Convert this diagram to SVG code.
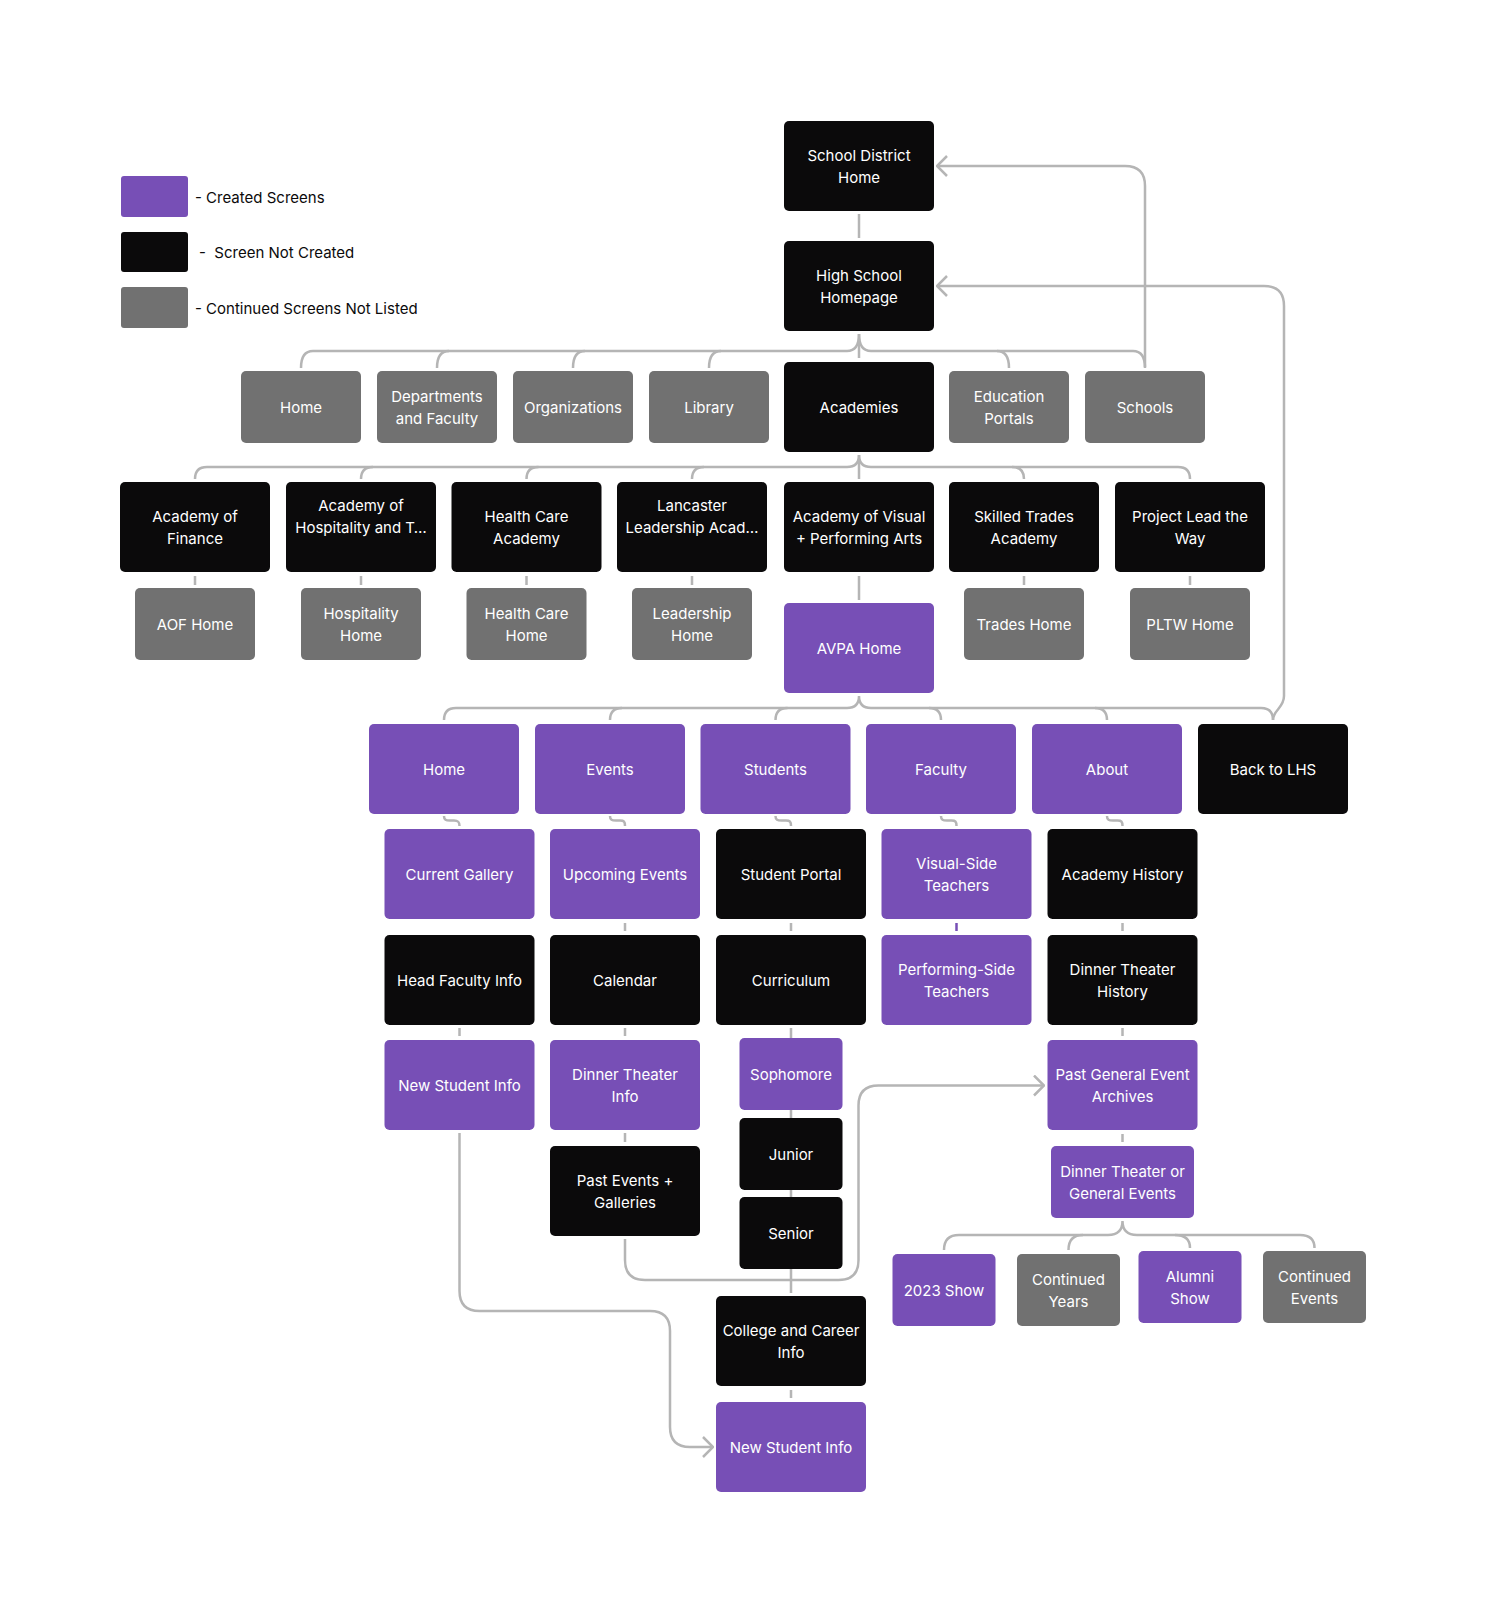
<svg xmlns="http://www.w3.org/2000/svg" width="1487" height="1613" viewBox="0 0 1487 1613">
<defs>
<style>
.p{fill:#774FB6}.b{fill:#0B0A0B}.g{fill:#717171}
.t{font-family:Inter,"Noto Sans","Liberation Sans",sans-serif;font-size:15px;fill:#fff;text-anchor:middle}
.lg{font-family:Inter,"Noto Sans","Liberation Sans",sans-serif;font-size:15px;fill:#0B0A0B;white-space:pre}
.c{fill:none;stroke:#B5B5B5;stroke-width:2.5}
.cp{fill:none;stroke:#774FB6;stroke-width:2.5}
.a{fill:none;stroke:#B5B5B5;stroke-width:2.5;marker-end:url(#chev)}
</style>
<marker id="chev" viewBox="0 0 12 22" refX="11" refY="11" markerWidth="12" markerHeight="22" markerUnits="userSpaceOnUse" orient="auto">
<path d="M1,1 L11,11 L1,21" fill="none" stroke="#B5B5B5" stroke-width="2.5"/>
</marker>
</defs>
<rect width="1487" height="1613" fill="#fff"/>

<g id="legend">
<rect class="p" x="121" y="176" width="67" height="41" rx="3"/>
<text class="lg" x="195" y="203">- Created Screens</text>
<rect class="b" x="121" y="232" width="67" height="40" rx="3"/>
<text class="lg" x="199" y="258">-  Screen Not Created</text>
<rect class="g" x="121" y="287" width="67" height="41" rx="3"/>
<text class="lg" x="195" y="314">- Continued Screens Not Listed</text>
</g>

<g id="connectors">
<path class="c" d="M859,214 V238"/>
<!-- row 2 bus -->
<path class="c" d="M301,368 Q301,351 313,351 H847 Q859,351 859,334 Q859,351 871,351 H1133 Q1145,351 1145,368"/>
<path class="c" d="M449,351 Q437,351 437,368 M585,351 Q573,351 573,368 M721,351 Q709,351 709,368 M997,351 Q1009,351 1009,368 M859,334 V358"/>
<!-- row 3 bus -->
<path class="c" d="M195,479 Q195,467 207,467 H847 Q859,467 859,455 Q859,467 871,467 H1178 Q1190,467 1190,479"/>
<path class="c" d="M373,467 Q361,467 361,479 M538.5,467 Q526.5,467 526.5,479 M704,467 Q692,467 692,479 M1012,467 Q1024,467 1024,479 M859,455 V479"/>
<!-- row 3 to row 4 -->
<path class="c" d="M195,576 V585 M361,576 V585 M526.5,576 V585 M692,576 V585 M859,576 V600 M1024,576 V585 M1190,576 V585"/>
<!-- row 5 bus -->
<path class="c" d="M444,720 Q444,708 456,708 H847 Q859,708 859,696 Q859,708 871,708 H1261 Q1273,708 1273,720"/>
<path class="c" d="M622,708 Q610,708 610,720 M787.5,708 Q775.5,708 775.5,720 M929,708 Q941,708 941,720 M1095,708 Q1107,708 1107,720"/>
<!-- row 5 to row 6 s-curves -->
<path class="c" d="M444,816 C444,820 446,820.5 450,820.5 H454 C458,820.5 459.5,821.5 459.5,826"/>
<path class="c" d="M610,816 C610,820 612,820.5 616,820.5 H620 C624,820.5 625,821.5 625,826"/>
<path class="c" d="M775.5,816 C775.5,820 777.5,820.5 781.5,820.5 H786 C790,820.5 791,821.5 791,826"/>
<path class="c" d="M941,816 C941,820 943,820.5 947,820.5 H951.5 C955.5,820.5 956.5,821.5 956.5,826"/>
<path class="c" d="M1107,816 C1107,820 1109,820.5 1113,820.5 H1117.5 C1121.5,820.5 1122.5,821.5 1122.5,826"/>
<!-- ticks -->
<path class="c" d="M625,923 V931 M791,923 V931 M1122.5,923 V931"/>
<path class="cp" d="M956.5,923 V931"/>
<path class="c" d="M459.5,1028 V1036 M625,1028 V1036 M1122.5,1028 V1036"/>
<path class="c" d="M791,1028 V1293"/>
<path class="c" d="M625,1133 V1142 M1122.5,1134 V1142 M791,1390 V1398"/>
<!-- bottom bus -->
<path class="c" d="M944,1250 Q944,1235 959,1235 H1108 Q1122.5,1235 1122.5,1221 Q1122.5,1235 1137,1235 H1300 Q1314.5,1235 1314.5,1248"/>
<path class="c" d="M1083,1235 Q1068.5,1235 1068.5,1250 M1175,1235 Q1190,1235 1190,1248"/>
<!-- arrows -->
<path class="a" d="M1145,367 V186 Q1145,166 1125,166 H937"/>
<path class="a" d="M1273,720 C1273,710 1284,708 1284,696 V306 Q1284,286 1264,286 H937"/>
<path class="a" d="M459.5,1133 V1291 Q459.5,1311 479.5,1311 H650 Q670,1311 670,1331 V1427 Q670,1447 690,1447 H713"/>
<path class="a" d="M625,1239 V1260 Q625,1280 645,1280 H838.5 Q858.5,1280 858.5,1260 V1105.5 Q858.5,1085.5 878.5,1085.5 H1044"/>
</g>

<g id="n-sdh"><rect class="b" x="784" y="121" width="150" height="90" rx="5"/><text class="t" x="859" y="161">School District<tspan x="859" dy="22">Home</tspan></text></g>
<g id="n-hsh"><rect class="b" x="784" y="241" width="150" height="90" rx="5"/><text class="t" x="859" y="281">High School<tspan x="859" dy="22">Homepage</tspan></text></g>

<g id="n-home"><rect class="g" x="241" y="371" width="120" height="72" rx="5"/><text class="t" x="301" y="412.5">Home</text></g>
<g id="n-dept"><rect class="g" x="377" y="371" width="120" height="72" rx="5"/><text class="t" x="437" y="402">Departments<tspan x="437" dy="22">and Faculty</tspan></text></g>
<g id="n-org"><rect class="g" x="513" y="371" width="120" height="72" rx="5"/><text class="t" x="573" y="412.5">Organizations</text></g>
<g id="n-lib"><rect class="g" x="649" y="371" width="120" height="72" rx="5"/><text class="t" x="709" y="412.5">Library</text></g>
<g id="n-acad"><rect class="b" x="784" y="362" width="150" height="90" rx="5"/><text class="t" x="859" y="412.5">Academies</text></g>
<g id="n-edu"><rect class="g" x="949" y="371" width="120" height="72" rx="5"/><text class="t" x="1009" y="402">Education<tspan x="1009" dy="22">Portals</tspan></text></g>
<g id="n-schools"><rect class="g" x="1085" y="371" width="120" height="72" rx="5"/><text class="t" x="1145" y="412.5">Schools</text></g>

<g id="n-aof"><rect class="b" x="120" y="482" width="150" height="90" rx="5"/><text class="t" x="195" y="522">Academy of<tspan x="195" dy="22">Finance</tspan></text></g>
<g id="n-hosp"><rect class="b" x="286" y="482" width="150" height="90" rx="5"/><text class="t" x="361" y="510.5">Academy of<tspan x="361" dy="22">Hospitality and T…</tspan></text></g>
<g id="n-hca"><rect class="b" x="451.5" y="482" width="150" height="90" rx="5"/><text class="t" x="526.5" y="522">Health Care<tspan x="526.5" dy="22">Academy</tspan></text></g>
<g id="n-lanc"><rect class="b" x="617" y="482" width="150" height="90" rx="5"/><text class="t" x="692" y="510.5">Lancaster<tspan x="692" dy="22">Leadership Acad…</tspan></text></g>
<g id="n-avpa"><rect class="b" x="784" y="482" width="150" height="90" rx="5"/><text class="t" x="859" y="522">Academy of Visual<tspan x="859" dy="22">+ Performing Arts</tspan></text></g>
<g id="n-sta"><rect class="b" x="949" y="482" width="150" height="90" rx="5"/><text class="t" x="1024" y="522">Skilled Trades<tspan x="1024" dy="22">Academy</tspan></text></g>
<g id="n-pltw"><rect class="b" x="1115" y="482" width="150" height="90" rx="5"/><text class="t" x="1190" y="522">Project Lead the<tspan x="1190" dy="22">Way</tspan></text></g>

<g id="n-aofhome"><rect class="g" x="135" y="588" width="120" height="72" rx="5"/><text class="t" x="195" y="629.5">AOF Home</text></g>
<g id="n-hosphome"><rect class="g" x="301" y="588" width="120" height="72" rx="5"/><text class="t" x="361" y="619">Hospitality<tspan x="361" dy="22">Home</tspan></text></g>
<g id="n-hchome"><rect class="g" x="466.5" y="588" width="120" height="72" rx="5"/><text class="t" x="526.5" y="619">Health Care<tspan x="526.5" dy="22">Home</tspan></text></g>
<g id="n-leadhome"><rect class="g" x="632" y="588" width="120" height="72" rx="5"/><text class="t" x="692" y="619">Leadership<tspan x="692" dy="22">Home</tspan></text></g>
<g id="n-avpahome"><rect class="p" x="784" y="603" width="150" height="90" rx="5"/><text class="t" x="859" y="653.5">AVPA Home</text></g>
<g id="n-tradeshome"><rect class="g" x="964" y="588" width="120" height="72" rx="5"/><text class="t" x="1024" y="629.5">Trades Home</text></g>
<g id="n-pltwhome"><rect class="g" x="1130" y="588" width="120" height="72" rx="5"/><text class="t" x="1190" y="629.5">PLTW Home</text></g>

<g id="n-ahome"><rect class="p" x="369" y="724" width="150" height="90" rx="5"/><text class="t" x="444" y="774.5">Home</text></g>
<g id="n-events"><rect class="p" x="535" y="724" width="150" height="90" rx="5"/><text class="t" x="610" y="774.5">Events</text></g>
<g id="n-students"><rect class="p" x="700.5" y="724" width="150" height="90" rx="5"/><text class="t" x="775.5" y="774.5">Students</text></g>
<g id="n-faculty"><rect class="p" x="866" y="724" width="150" height="90" rx="5"/><text class="t" x="941" y="774.5">Faculty</text></g>
<g id="n-about"><rect class="p" x="1032" y="724" width="150" height="90" rx="5"/><text class="t" x="1107" y="774.5">About</text></g>
<g id="n-back"><rect class="b" x="1198" y="724" width="150" height="90" rx="5"/><text class="t" x="1273" y="774.5">Back to LHS</text></g>

<g id="n-gallery"><rect class="p" x="384.5" y="829" width="150" height="90" rx="5"/><text class="t" x="459.5" y="879.5">Current Gallery</text></g>
<g id="n-upcoming"><rect class="p" x="550" y="829" width="150" height="90" rx="5"/><text class="t" x="625" y="879.5">Upcoming Events</text></g>
<g id="n-portal"><rect class="b" x="716" y="829" width="150" height="90" rx="5"/><text class="t" x="791" y="879.5">Student Portal</text></g>
<g id="n-visual"><rect class="p" x="881.5" y="829" width="150" height="90" rx="5"/><text class="t" x="956.5" y="869">Visual-Side<tspan x="956.5" dy="22">Teachers</tspan></text></g>
<g id="n-history"><rect class="b" x="1047.5" y="829" width="150" height="90" rx="5"/><text class="t" x="1122.5" y="879.5">Academy History</text></g>

<g id="n-headfac"><rect class="b" x="384.5" y="935" width="150" height="90" rx="5"/><text class="t" x="459.5" y="985.5">Head Faculty Info</text></g>
<g id="n-calendar"><rect class="b" x="550" y="935" width="150" height="90" rx="5"/><text class="t" x="625" y="985.5">Calendar</text></g>
<g id="n-curriculum"><rect class="b" x="716" y="935" width="150" height="90" rx="5"/><text class="t" x="791" y="985.5">Curriculum</text></g>
<g id="n-performing"><rect class="p" x="881.5" y="935" width="150" height="90" rx="5"/><text class="t" x="956.5" y="975">Performing-Side<tspan x="956.5" dy="22">Teachers</tspan></text></g>
<g id="n-dthistory"><rect class="b" x="1047.5" y="935" width="150" height="90" rx="5"/><text class="t" x="1122.5" y="975">Dinner Theater<tspan x="1122.5" dy="22">History</tspan></text></g>

<g id="n-newstudent"><rect class="p" x="384.5" y="1040" width="150" height="90" rx="5"/><text class="t" x="459.5" y="1090.5">New Student Info</text></g>
<g id="n-dtinfo"><rect class="p" x="550" y="1040" width="150" height="90" rx="5"/><text class="t" x="625" y="1080">Dinner Theater<tspan x="625" dy="22">Info</tspan></text></g>
<g id="n-sophomore"><rect class="p" x="739.5" y="1038" width="103" height="72" rx="5"/><text class="t" x="791" y="1079.5">Sophomore</text></g>
<g id="n-junior"><rect class="b" x="739.5" y="1118" width="103" height="72" rx="5"/><text class="t" x="791" y="1159.5">Junior</text></g>
<g id="n-senior"><rect class="b" x="739.5" y="1197" width="103" height="72" rx="5"/><text class="t" x="791" y="1238.5">Senior</text></g>
<g id="n-pgea"><rect class="p" x="1047.5" y="1040" width="150" height="90" rx="5"/><text class="t" x="1122.5" y="1080">Past General Event<tspan x="1122.5" dy="22">Archives</tspan></text></g>

<g id="n-pastevents"><rect class="b" x="550" y="1146" width="150" height="90" rx="5"/><text class="t" x="625" y="1186">Past Events +<tspan x="625" dy="22">Galleries</tspan></text></g>
<g id="n-dtge"><rect class="p" x="1051" y="1146" width="143" height="72" rx="5"/><text class="t" x="1122.5" y="1176.5">Dinner Theater or<tspan x="1122.5" dy="22">General Events</tspan></text></g>

<g id="n-2023"><rect class="p" x="892.5" y="1254" width="103" height="72" rx="5"/><text class="t" x="944" y="1295.5">2023 Show</text></g>
<g id="n-contyears"><rect class="g" x="1017" y="1254" width="103" height="72" rx="5"/><text class="t" x="1068.5" y="1285">Continued<tspan x="1068.5" dy="22">Years</tspan></text></g>
<g id="n-alumni"><rect class="p" x="1138.5" y="1251" width="103" height="72" rx="5"/><text class="t" x="1190" y="1282">Alumni<tspan x="1190" dy="22">Show</tspan></text></g>
<g id="n-contevents"><rect class="g" x="1263" y="1251" width="103" height="72" rx="5"/><text class="t" x="1314.5" y="1282">Continued<tspan x="1314.5" dy="22">Events</tspan></text></g>

<g id="n-college"><rect class="b" x="716" y="1296" width="150" height="90" rx="5"/><text class="t" x="791" y="1336">College and Career<tspan x="791" dy="22">Info</tspan></text></g>
<g id="n-newstudent2"><rect class="p" x="716" y="1402" width="150" height="90" rx="5"/><text class="t" x="791" y="1452.5">New Student Info</text></g>
</svg>
